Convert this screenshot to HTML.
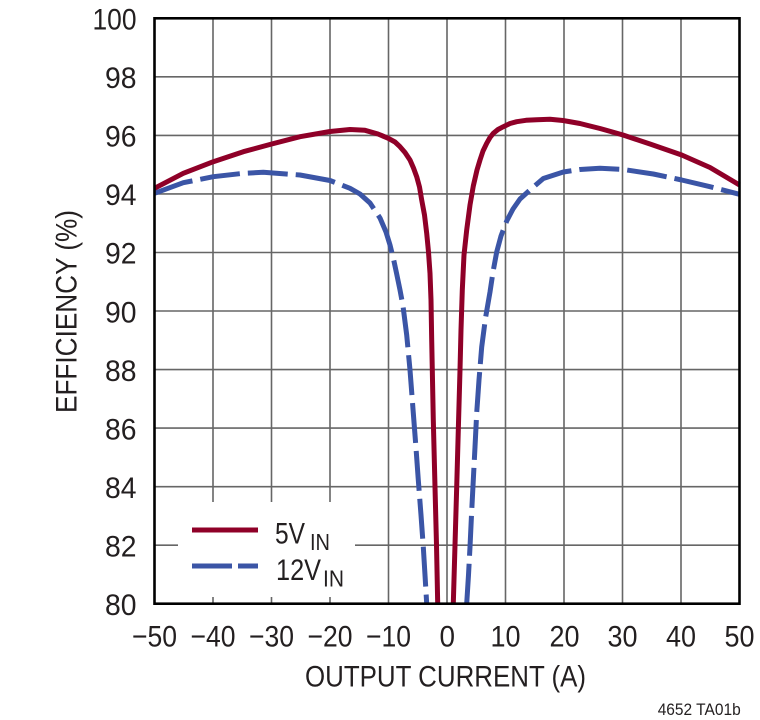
<!DOCTYPE html>
<html>
<head>
<meta charset="utf-8">
<style>
  html, body { margin:0; padding:0; background:#ffffff; }
  svg { display:block; }
  text { font-family: "Liberation Sans", Arial, sans-serif; fill:#231f20; }
</style>
</head>
<body>
<svg width="760" height="720" viewBox="0 0 760 720" xmlns="http://www.w3.org/2000/svg">
  <rect x="0" y="0" width="760" height="720" fill="#ffffff"/>

  <!-- grid -->
  <g stroke="#666666" stroke-width="1.6" fill="none">
    <line x1="213" y1="18.3" x2="213" y2="603.7"/>
    <line x1="271.5" y1="18.3" x2="271.5" y2="603.7"/>
    <line x1="330" y1="18.3" x2="330" y2="603.7"/>
    <line x1="388.5" y1="18.3" x2="388.5" y2="603.7"/>
    <line x1="447" y1="18.3" x2="447" y2="603.7"/>
    <line x1="505.5" y1="18.3" x2="505.5" y2="603.7"/>
    <line x1="564" y1="18.3" x2="564" y2="603.7"/>
    <line x1="622.5" y1="18.3" x2="622.5" y2="603.7"/>
    <line x1="681" y1="18.3" x2="681" y2="603.7"/>

    <line x1="154.5" y1="76.8" x2="739.5" y2="76.8"/>
    <line x1="154.5" y1="135.4" x2="739.5" y2="135.4"/>
    <line x1="154.5" y1="193.9" x2="739.5" y2="193.9"/>
    <line x1="154.5" y1="252.5" x2="739.5" y2="252.5"/>
    <line x1="154.5" y1="311" x2="739.5" y2="311"/>
    <line x1="154.5" y1="369.6" x2="739.5" y2="369.6"/>
    <line x1="154.5" y1="428.1" x2="739.5" y2="428.1"/>
    <line x1="154.5" y1="486.7" x2="739.5" y2="486.7"/>
    <line x1="154.5" y1="545.2" x2="739.5" y2="545.2"/>
  </g>

  <!-- legend background -->
  <rect x="178" y="502" width="177" height="95" fill="#ffffff"/>

  <!-- 12V curve (dashed blue) -->
  <g fill="none" stroke="#3b55a6" stroke-width="5" stroke-dasharray="40 8" stroke-linejoin="round">
    <polyline points="154.5,193.3 183.3,182.7 213.3,176.7 243.3,173.3 263.3,172.3 300,175 330,180.5 350,188.3 360,194 370,203 380,218 386,232 390,245 393.5,259 396.7,274 400,290 403,306 406.7,335 410,370 413.3,413 416,448 418.3,480 421,515 423.3,547 425,575 426.7,603.7"/>
    <polyline points="466.7,603.7 468.5,575 470,547 471.5,515 473.3,480 475,447 476.7,413 479,380 481.7,347 485.5,318 490,292 493,272 496.7,252 501,236 506.7,221 513,209 520,199 530,190 543.3,178.5 563.3,172 580,169.5 600,168.3 623.3,169.5 653.3,174 681.7,180 710,186.7 739.5,194.3"/>
  </g>

  <!-- 5V curve (solid red) -->
  <g fill="none" stroke="#8f0028" stroke-width="5" stroke-linejoin="round">
    <polyline points="154.5,188.3 183.3,173.3 213.3,161.7 243.3,151.7 271.7,144 300,136.7 330,131.5 350,129.5 365,130.3 378,134 388.3,138.3 395,142 400,146.7 405,152.5 410,160 413.5,168 416.7,176.7 419.5,187 421.7,200 424.5,215 426.7,233.3 428.5,252 430,273.3 431,300 431.7,340 433.3,420 435,487 436.5,545 437.7,603.7"/>
    <polyline points="453.3,603.7 455,545 456.7,487 458.3,430 460,370 461,330 462.3,290 464,255 466.7,230 470,205 473.3,186 477,170 480,160 483,151 486.7,143.3 490,137.5 493.3,133.3 498,129.5 503.3,126.7 510,123.5 516.7,121.7 526,120.3 536.7,119.7 550,119.3 563,120.5 580,123.5 600,128.5 623,135 650,144 681.7,155 710,167.5 739.5,185"/>
  </g>

  <!-- frame -->
  <rect x="154.5" y="18.3" width="585" height="585.4" fill="none" stroke="#000000" stroke-width="2.6"/>

  <!-- legend -->
  <line x1="192" y1="530" x2="258" y2="530" stroke="#8f0028" stroke-width="5"/>
  <line x1="192" y1="566" x2="232" y2="566" stroke="#3b55a6" stroke-width="5"/>
  <line x1="238" y1="566" x2="258" y2="566" stroke="#3b55a6" stroke-width="5"/>
  <text x="275" y="543.3" font-size="30" textLength="30" lengthAdjust="spacingAndGlyphs">5V</text>
  <text x="310" y="550" font-size="23" textLength="20" lengthAdjust="spacingAndGlyphs">IN</text>
  <text x="276" y="580" font-size="30" textLength="45" lengthAdjust="spacingAndGlyphs">12V</text>
  <text x="323" y="586.5" font-size="23" textLength="21" lengthAdjust="spacingAndGlyphs">IN</text>

  <!-- y tick labels -->
  <g font-size="30">
    <text x="92.5" y="29.5" textLength="44" lengthAdjust="spacingAndGlyphs">100</text>
    <text x="105" y="88" textLength="31.5" lengthAdjust="spacingAndGlyphs">98</text>
    <text x="105" y="146.6" textLength="31.5" lengthAdjust="spacingAndGlyphs">96</text>
    <text x="105" y="205.1" textLength="31.5" lengthAdjust="spacingAndGlyphs">94</text>
    <text x="105" y="263.7" textLength="31.5" lengthAdjust="spacingAndGlyphs">92</text>
    <text x="105" y="322.7" textLength="31.5" lengthAdjust="spacingAndGlyphs">90</text>
    <text x="105" y="380.8" textLength="31.5" lengthAdjust="spacingAndGlyphs">88</text>
    <text x="105" y="439.3" textLength="31.5" lengthAdjust="spacingAndGlyphs">86</text>
    <text x="105" y="497.9" textLength="31.5" lengthAdjust="spacingAndGlyphs">84</text>
    <text x="105" y="556.4" textLength="31.5" lengthAdjust="spacingAndGlyphs">82</text>
    <text x="105" y="614.9" textLength="31.5" lengthAdjust="spacingAndGlyphs">80</text>
  </g>

  <!-- x tick labels -->
  <g font-size="30">
    <text x="132" y="646.7" textLength="45" lengthAdjust="spacingAndGlyphs">&#8722;50</text>
    <text x="190.5" y="646.7" textLength="45" lengthAdjust="spacingAndGlyphs">&#8722;40</text>
    <text x="249" y="646.7" textLength="45" lengthAdjust="spacingAndGlyphs">&#8722;30</text>
    <text x="307.5" y="646.7" textLength="45" lengthAdjust="spacingAndGlyphs">&#8722;20</text>
    <text x="366" y="646.7" textLength="45" lengthAdjust="spacingAndGlyphs">&#8722;10</text>
    <text x="439.5" y="646.7" textLength="15.5" lengthAdjust="spacingAndGlyphs">0</text>
    <text x="490.5" y="646.7" textLength="30" lengthAdjust="spacingAndGlyphs">10</text>
    <text x="549.5" y="646.7" textLength="30" lengthAdjust="spacingAndGlyphs">20</text>
    <text x="607.5" y="646.7" textLength="30" lengthAdjust="spacingAndGlyphs">30</text>
    <text x="666" y="646.7" textLength="30" lengthAdjust="spacingAndGlyphs">40</text>
    <text x="724.5" y="646.7" textLength="30" lengthAdjust="spacingAndGlyphs">50</text>
  </g>

  <!-- axis titles -->
  <text x="305" y="686.7" font-size="30" textLength="281" lengthAdjust="spacingAndGlyphs">OUTPUT CURRENT (A)</text>
  <text transform="translate(76.5,413) rotate(-90)" x="0" y="0" font-size="30" textLength="203" lengthAdjust="spacingAndGlyphs">EFFICIENCY (%)</text>

  <!-- figure id -->
  <text x="657.7" y="715" font-size="16.5" textLength="83" lengthAdjust="spacingAndGlyphs">4652 TA01b</text>
</svg>
</body>
</html>
